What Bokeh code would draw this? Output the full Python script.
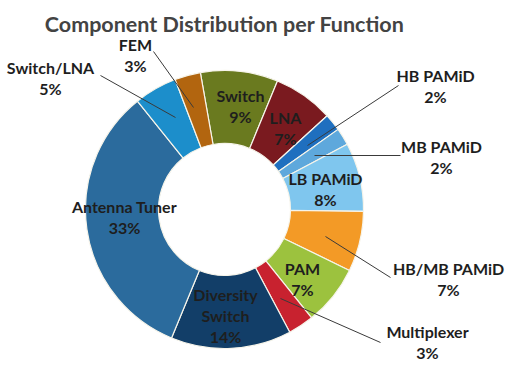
import math
from bokeh.plotting import figure
from bokeh.models import Range1d, ColumnDataSource
from bokeh.core.properties import value
from bokeh.embed import file_html
from bokeh.resources import INLINE

# ---- data ----
categories = ["Switch", "LNA", "HB PAMiD", "MB PAMiD", "LB PAMiD", "HB/MB PAMiD",
              "PAM", "Multiplexer", "Diversity Switch", "Antenna Tuner", "Switch/LNA", "FEM"]
shares = [9, 7, 2, 2, 8, 7, 7, 3, 14, 33, 5, 3]
label_lines = [["Switch", "9%"], ["LNA", "7%"], ["HB PAMiD", "2%"], ["MB PAMiD", "2%"],
               ["LB PAMiD", "8%"], ["HB/MB PAMiD", "7%"], ["PAM", "7%"], ["Multiplexer", "3%"],
               ["Diversity", "Switch", "14%"], ["Antenna Tuner", "33%"], ["Switch/LNA", "5%"], ["FEM", "3%"]]

# ---- styling / layout ----
colors = ["#6a7a1f", "#7a1a1f", "#1f6fbf", "#5ea8dc", "#7fc6ee", "#f39a26",
          "#9cc23e", "#c8222f", "#123e68", "#2b6b9d", "#1c8ecb", "#b2650f"]
W, H = 505, 362
CX, CY = 224, 209          # picture px
R_OUT, R_IN = 139, 66
START_DEG = 100.0

def sy(y):  # picture y (down) -> data y (up)
    return H - y

# label anchor (picture coords, center of first line)
label_pos = [(240, 95), (285, 117), (435, 75), (441, 146), (325, 178), (448, 268),
             (302, 268), (427, 331), (225, 294), (124, 206), (50, 67), (135, 44)]
line_h = 21
# leader lines (picture coords)
leaders = [None, None, ((398, 85), (307, 145)), ((400, 155), (314, 155)), None,
           ((390, 277), (325, 236)), None, ((380, 342), (280, 298)), None, None,
           ((100, 75), (175, 117)), ((153, 51), (193, 107))]

total = sum(shares)
starts, ends = [], []
acc = 0.0
for s in shares:
    a0 = math.radians(START_DEG - 360.0 * acc / total)
    acc += s
    a1 = math.radians(START_DEG - 360.0 * acc / total)
    starts.append(a0)
    ends.append(a1)

p = figure(width=W, height=H, output_backend="svg", toolbar_location=None,
           x_range=Range1d(0, W), y_range=Range1d(0, H), min_border=0)
p.axis.visible = False
p.grid.visible = False
p.outline_line_color = None
p.background_fill_color = "white"

src = ColumnDataSource(dict(start=starts, end=ends, color=colors, cat=categories))
p.annular_wedge(x=CX, y=sy(CY), inner_radius=R_IN, outer_radius=R_OUT,
                start_angle="start", end_angle="end", direction="clock",
                fill_color="color", line_color="#f6f4ea", line_width=1.2, source=src)

# leaders
xs0, ys0, xs1, ys1 = [], [], [], []
for l in leaders:
    if l:
        xs0.append(l[0][0]); ys0.append(sy(l[0][1]))
        xs1.append(l[1][0]); ys1.append(sy(l[1][1]))
p.segment(x0=xs0, y0=ys0, x1=xs1, y1=ys1, line_color="#3a3a3a", line_width=1)

# labels
tx, ty, tt = [], [], []
for (x, y), lines in zip(label_pos, label_lines):
    for i, t in enumerate(lines):
        tx.append(x); ty.append(sy(y + i * line_h)); tt.append(t)
p.text(x=tx, y=ty, text=tt, text_align="center", text_baseline="middle",
       text_font=value("Lato"), text_font_style="bold", text_font_size="16px",
       text_color="#1e1e1e")

p.text(x=[224], y=[sy(23)], text=["Component Distribution per Function"],
       text_align="center", text_baseline="middle", text_font=value("Lato"),
       text_font_style="bold", text_font_size="21.5px", text_color="#434343")

open("out.html", "w").write(file_html(p, INLINE))
